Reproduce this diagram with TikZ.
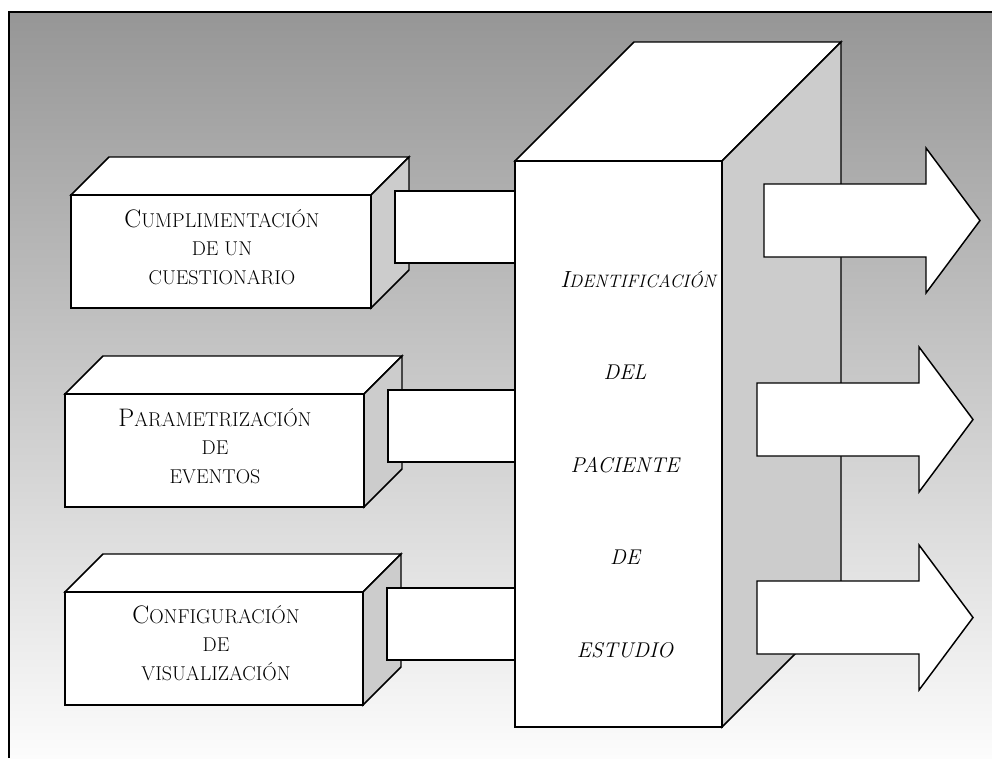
\documentclass[tikz,border=0pt]{standalone}
\usepackage{tikz}
\definecolor{bgTop}{HTML}{969696}
\definecolor{bgMid}{HTML}{CACACA}
\definecolor{bgLow}{HTML}{FCFCFC}
\definecolor{sideCol}{HTML}{CCCCCC}
\newcommand{\initcap}[1]{{\fontsize{19}{21.4}\selectfont #1}}

\begin{document}
\begin{tikzpicture}[x=0.75pt, y=-0.75pt,
    face/.style={draw=black, fill=white, line width=1.1pt},
    side/.style={face, fill=sideCol},
    every node/.style={font=\fontsize{15}{21.4}\selectfont, align=center}]
  \useasboundingbox (0,0) rectangle (992,758);
  \shade[top color=bgTop, middle color=bgMid, bottom color=bgLow] (9,12) rectangle (992,758);
  \draw[line width=1.6pt] (9,758) -- (9,12) -- (992,12);

  \foreach \bx/\by/\bw in {71/195/300, 65/394/299, 65/592/298}{
      \filldraw[face] (\bx,\by) -- ++(38,-38) -- ++(\bw,0) -- ++(-38,38) -- cycle;
      \filldraw[side] (\bx+\bw,\by) -- ++(38,-38) -- ++(0,113) -- ++(-38,38) -- cycle;
      \filldraw[face] (\bx,\by) rectangle ++(\bw,113);
      \filldraw[face] (\bx+\bw+24,\by-4) rectangle (515,\by+68);
    }
  \node (cuest) at (222,247) {\initcap{C}UMPLIMENTACIÓN\\DE UN\\CUESTIONARIO};
  \node (param) at (215,446) {\initcap{P}ARAMETRIZACIÓN\\DE\\EVENTOS};
  \node (config) at (216,643) {\initcap{C}ONFIGURACIÓN\\DE\\VISUALIZACIÓN};

  \filldraw[face] (515,161) -- (634,42) -- (841,42) -- (722,161) -- cycle;
  \filldraw[side] (722,161) -- (841,42) -- (841,608) -- (722,727) -- cycle;
  \filldraw[face] (515,161) rectangle (722,727);
  \node (ident) [anchor=base, font=\fontsize{13.5}{16}\selectfont\itshape] at (638,287)
    {{\fontsize{17.5}{16}\selectfont I}DENTIFICACIÓN};
  \foreach \word/\wy [count=\i] in {DEL/379, PACIENTE/472, DE/564, ESTUDIO/657}
    \node (ident\i) [anchor=base, font=\fontsize{16}{18}\selectfont\itshape] at (625,\wy) {\word};

  \foreach \ax/\ay in {764/220.5, 757/419.5, 757/617.5}
    \filldraw[face] (\ax,\ay-36.5) -- ++(162,0) -- ++(0,-36) -- (\ax+216,\ay)
      -- (\ax+162,\ay+72.5) -- ++(0,-36) -- (\ax,\ay+36.5) -- cycle;
\end{tikzpicture}
\end{document}
